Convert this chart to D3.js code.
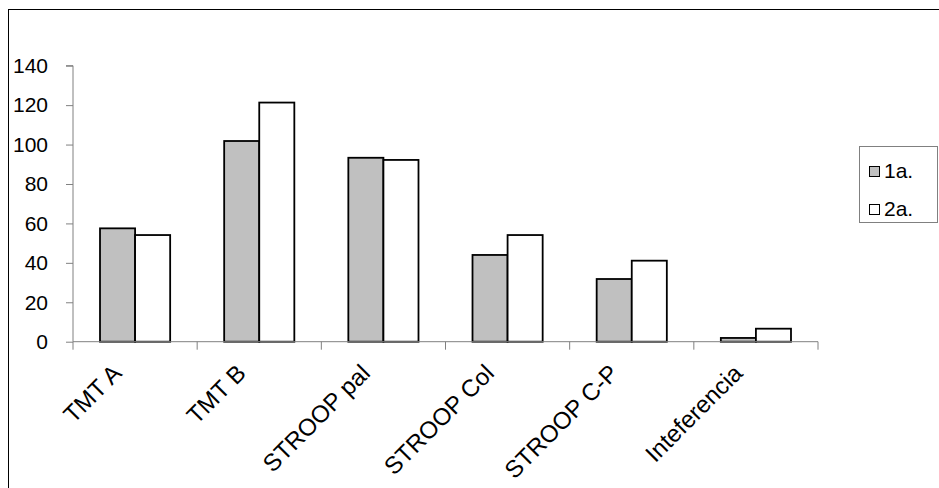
<!DOCTYPE html>
<html>
<head>
<meta charset="utf-8">
<script src="https://cdn.jsdelivr.net/npm/d3@7"></script>
<style>
html,body{margin:0;padding:0;background:#fff;}
svg{display:block;font-family:"Liberation Sans",Arial,sans-serif;}
</style>
</head>
<body>
<svg id="chart" width="939" height="488"></svg>
<script>
const categories = ["TMT A","TMT B","STROOP pal","STROOP Col","STROOP C-P","Inteferencia"];
const seriesNames = ["1a.","2a."];
const series1 = [57.5,101.8,93.3,44,31.8,1.9];
const series2 = [54.1,121.3,92.2,54.1,41.1,6.6];
const yTicks = [0,20,40,60,80,100,120,140];
const seriesFill = ["#c0c0c0","#ffffff"];

const svg = d3.select("#chart");
const mLeft = 73, mRight = 818, mTop = 65.7, mBottom = 341.7;

// outer border
svg.append("rect").attr("x",8.5).attr("y",9.5).attr("width",960).attr("height",500)
  .attr("fill","none").attr("stroke","#000").attr("stroke-width",1);

const y = d3.scaleLinear().domain([0,140]).range([mBottom, mTop]);
const x0 = d3.scaleBand().domain(categories).range([mLeft, mRight]).padding(0);
const bw = x0.bandwidth();
const x1 = d3.scaleBand().domain(seriesNames).range([bw*0.2175, bw*(1-0.2175)]).padding(0);

// y axis
const yAxis = d3.axisLeft(y).tickValues(yTicks).tickSize(7).tickPadding(18).tickFormat(d3.format("d"));
const gy = svg.append("g").attr("transform",`translate(${mLeft},0)`).call(yAxis);
gy.select(".domain").attr("stroke","#808080").attr("d",`M-7,${y(140)}H0V${y(0)}`);
gy.selectAll(".tick line").attr("stroke","#808080");
gy.selectAll(".tick text").attr("font-size",21).attr("fill","#000").attr("font-family","Liberation Sans, Arial, sans-serif");

// bars
const data = categories.map((c,i)=>({cat:c, vals:[series1[i],series2[i]]}));
const groups = svg.append("g").selectAll("g").data(data).join("g")
  .attr("transform",d=>`translate(${x0(d.cat)},0)`);
groups.selectAll("rect").data(d=>d.vals.map((v,j)=>({name:seriesNames[j],v,j}))).join("rect")
  .attr("x",d=>x1(d.name)).attr("width",x1.bandwidth())
  .attr("y",d=>y(d.v)).attr("height",d=>y(0)-y(d.v))
  .attr("fill",d=>seriesFill[d.j]).attr("stroke","#000").attr("stroke-width",1.8);

// x axis
const gx = svg.append("g");
gx.append("line").attr("x1",mLeft).attr("x2",mRight).attr("y1",mBottom).attr("y2",mBottom).attr("stroke","#808080");
const bounds = d3.range(categories.length+1).map(i=>mLeft + i*bw);
gx.selectAll("line.t").data(bounds).join("line").attr("class","t")
  .attr("x1",d=>d).attr("x2",d=>d).attr("y1",mBottom).attr("y2",mBottom+8).attr("stroke","#808080");
gx.selectAll("text").data(categories).join("text")
  .attr("transform",d=>`translate(${x0(d)+bw/2-12},${mBottom+33}) rotate(-45)`)
  .attr("text-anchor","end").attr("font-size",24).attr("fill","#000").text(d=>d);

// legend
const lg = svg.append("g");
lg.append("rect").attr("x",859.5).attr("y",146.5).attr("width",78).attr("height",76)
  .attr("fill","#fff").attr("stroke","#808080").attr("stroke-width",1);
const lItems = lg.selectAll("g").data(seriesNames).join("g")
  .attr("transform",(d,i)=>`translate(869,${171 + i*38})`);
lItems.append("rect").attr("x",0.5).attr("y",-4.5).attr("width",10).attr("height",10)
  .attr("fill",(d,i)=>seriesFill[i]).attr("stroke","#000").attr("stroke-width",1);
lItems.append("text").attr("x",15).attr("y",0).attr("dy","0.35em").attr("font-size",21).attr("fill","#000").text(d=>d);
</script>
</body>
</html>
